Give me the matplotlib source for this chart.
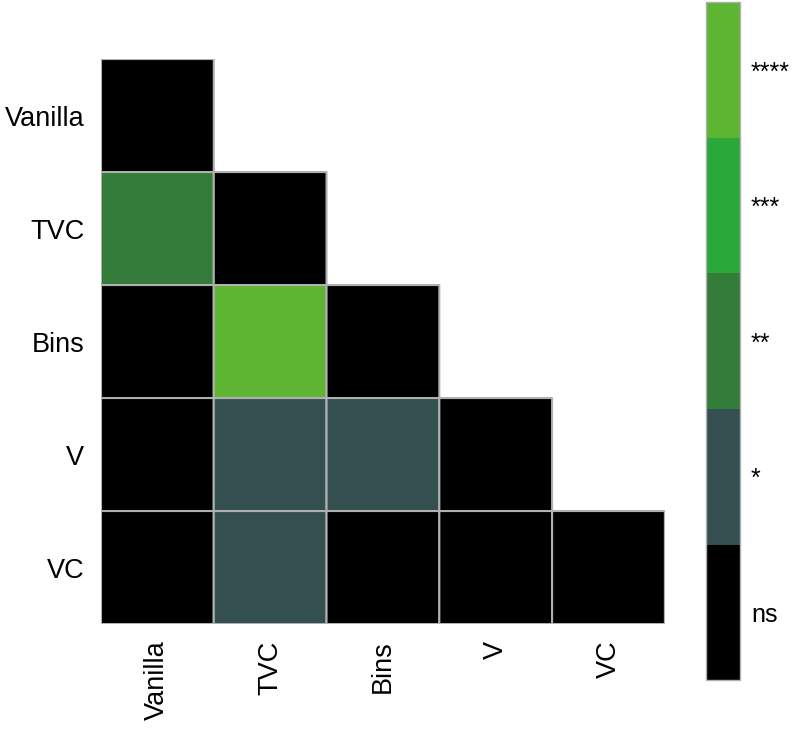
import numpy as np
import matplotlib
matplotlib.use("Agg")
import matplotlib.pyplot as plt
from matplotlib.colors import ListedColormap, BoundaryNorm

plt.rcParams['font.family'] = ['Liberation Sans', 'DejaVu Sans']

categories = ["Vanilla", "TVC", "Bins", "V", "VC"]
levels = ["ns", "*", "**", "***", "****"]
level_colors = ["#000000", "#344f4f", "#347c3a", "#2ba83a", "#5db532"]

# significance level index (0=ns .. 4=****), lower triangle incl. diagonal
sig = np.array([
    [0, np.nan, np.nan, np.nan, np.nan],
    [2, 0, np.nan, np.nan, np.nan],
    [0, 4, 0, np.nan, np.nan],
    [0, 1, 1, 0, np.nan],
    [0, 1, 0, 0, 0],
])

fig = plt.figure(figsize=(7.92, 7.29), dpi=100)
ax = fig.add_axes([0.1275, 0.144, 0.712, 0.775])
cax = fig.add_axes([0.891, 0.067, 0.043, 0.930])

cmap = ListedColormap(level_colors)
norm = BoundaryNorm(np.arange(-0.5, len(levels) + 0.5, 1), cmap.N)
data = np.ma.masked_invalid(sig)
mesh = ax.pcolor(data, cmap=cmap, norm=norm, edgecolors="#b0b0b0", linewidth=1.5)
ax.set_xlim(0, len(categories))
ax.set_ylim(len(categories), 0)
for s in ax.spines.values():
    s.set_visible(False)
ax.set_xticks(np.arange(len(categories)) + 0.5)
ax.set_yticks(np.arange(len(categories)) + 0.5)
ax.set_xticklabels(categories, rotation=90, fontsize=19.5)
ax.set_yticklabels(categories, fontsize=19.5)
ax.tick_params(axis='x', length=0, pad=12)
ax.tick_params(axis='y', length=0, pad=12)

cb = fig.colorbar(mesh, cax=cax, ticks=np.arange(len(levels)))
cb.ax.minorticks_off()
cb.ax.set_yticklabels(levels, fontsize=18)
cb.ax.tick_params(which='both', length=0, pad=8)
cb.outline.set_edgecolor("#b0b0b0")
cb.outline.set_linewidth(1)

fig.savefig("out.png", dpi=100)
